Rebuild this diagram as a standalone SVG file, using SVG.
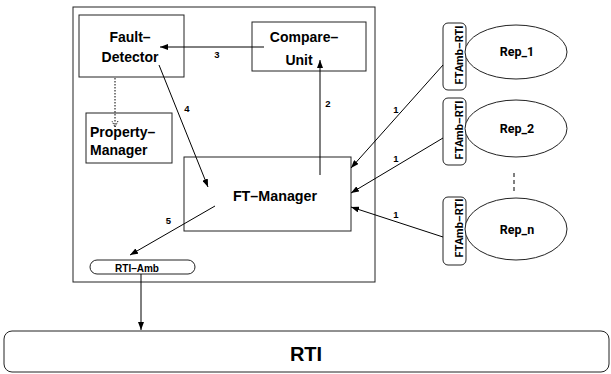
<svg xmlns="http://www.w3.org/2000/svg" width="611" height="374" viewBox="0 0 611 374">
<style>
.box{fill:#fff;stroke:#222;stroke-width:1}
.t{font-family:"Liberation Sans",Arial,sans-serif;font-weight:bold;fill:#000}
.r{font-family:Roboto,"Liberation Sans",Arial,sans-serif;font-weight:bold;fill:#000}
.c{stroke:#000;stroke-width:1;fill:none}
.lbl{font-family:"Liberation Sans",Arial,sans-serif;font-weight:bold;font-size:9.5px;text-anchor:middle}
</style>
<defs>
<marker id="ah" markerUnits="userSpaceOnUse" markerWidth="8" markerHeight="6" refX="8" refY="3" orient="auto">
<path d="M0,0 L8,3 L0,6 z" fill="#000"/>
</marker>
<marker id="ahd" markerUnits="userSpaceOnUse" markerWidth="8" markerHeight="8" refX="7" refY="4" orient="auto">
<path d="M1,1 L7,4 L1,7" fill="none" stroke="#000" stroke-width="1" stroke-dasharray="1,1"/>
</marker>
</defs>
<rect id="container" x="73" y="7" width="302" height="275" class="box"/>
<g id="fault-detector">
<rect x="79" y="15" width="105" height="62" class="box"/>
<text class="t" font-size="14" x="130" y="42" text-anchor="middle">Fault–</text>
<text class="t" font-size="14" x="130" y="62" text-anchor="middle">Detector</text>
</g>
<g id="compare-unit">
<rect x="252" y="22" width="114" height="49" class="box"/>
<text class="t" font-size="14" x="304" y="42" text-anchor="middle">Compare–</text>
<text class="t" font-size="14" x="299" y="65" text-anchor="middle">Unit</text>
</g>
<g id="property-manager">
<rect x="86" y="113" width="86" height="50" class="box"/>
<text class="t" font-size="14" x="90" y="137">Property–</text>
<text class="t" font-size="14" x="90" y="155">Manager</text>
</g>
<g id="ft-manager">
<rect x="184" y="157" width="167" height="74" class="box"/>
<text class="t" font-size="14.3" x="275" y="201" text-anchor="middle">FT–Manager</text>
</g>
<g id="rti-amb">
<rect x="90" y="260" width="105" height="14" rx="7" class="box"/>
<text class="t" font-size="10" x="137" y="271.5" text-anchor="middle">RTI–Amb</text>
</g>
<g id="rti">
<rect x="4" y="331" width="605" height="41" rx="8" class="box"/>
<text class="t" font-size="20" x="306" y="361" text-anchor="middle">RTI</text>
</g>
<g id="ftamb-1">
<rect x="443" y="23" width="23" height="67" rx="5" class="box"/>
<text class="r" font-size="11" transform="translate(462.5,55) rotate(-90)" text-anchor="middle">FTAmb–RTI</text>
</g>
<g id="ftamb-2">
<rect x="443" y="98" width="23" height="67" rx="5" class="box"/>
<text class="r" font-size="11" transform="translate(462.5,130) rotate(-90)" text-anchor="middle">FTAmb–RTI</text>
</g>
<g id="ftamb-n">
<rect x="443" y="197" width="23" height="68" rx="5" class="box"/>
<text class="r" font-size="11" transform="translate(462.5,228) rotate(-90)" text-anchor="middle">FTAmb–RTI</text>
</g>
<g id="rep-1">
<ellipse cx="516" cy="52" rx="51" ry="27" class="box"/>
<text class="r" font-size="12.5" x="517" y="56" text-anchor="middle">Rep_1</text>
</g>
<g id="rep-2">
<ellipse cx="516" cy="128.5" rx="51" ry="28.5" class="box"/>
<text class="r" font-size="12.5" x="517" y="133" text-anchor="middle">Rep_2</text>
</g>
<g id="rep-n">
<ellipse cx="516" cy="229" rx="51" ry="31" class="box"/>
<text class="r" font-size="12.5" x="517" y="234" text-anchor="middle">Rep_n</text>
</g>
<g id="connectors">
<line x1="514" y1="173" x2="514" y2="193" class="c" stroke-dasharray="4,3"/>
<line x1="443" y1="65" x2="351" y2="168" class="c" marker-end="url(#ah)"/>
<line x1="443" y1="138" x2="351" y2="193" class="c" marker-end="url(#ah)"/>
<line x1="443" y1="237" x2="351" y2="207" class="c" marker-end="url(#ah)"/>
<line x1="320" y1="175" x2="320" y2="60" class="c" marker-end="url(#ah)"/>
<line x1="264" y1="47" x2="160" y2="47" class="c" marker-end="url(#ah)"/>
<line x1="159" y1="65" x2="208" y2="187" class="c" marker-end="url(#ah)"/>
<line x1="215" y1="206" x2="130" y2="255" class="c" marker-end="url(#ah)"/>
<line x1="115" y1="78" x2="115" y2="127" class="c" stroke-dasharray="1.5,1.5" marker-end="url(#ahd)"/>
<line x1="141" y1="274" x2="141" y2="330" class="c" marker-end="url(#ah)"/>
<text class="lbl" x="396" y="113">1</text>
<text class="lbl" x="396" y="162">1</text>
<text class="lbl" x="396" y="218">1</text>
<text class="lbl" x="328" y="107">2</text>
<text class="lbl" x="217" y="58">3</text>
<text class="lbl" x="187" y="112">4</text>
<text class="lbl" x="168.5" y="224">5</text>
</g>
</svg>
